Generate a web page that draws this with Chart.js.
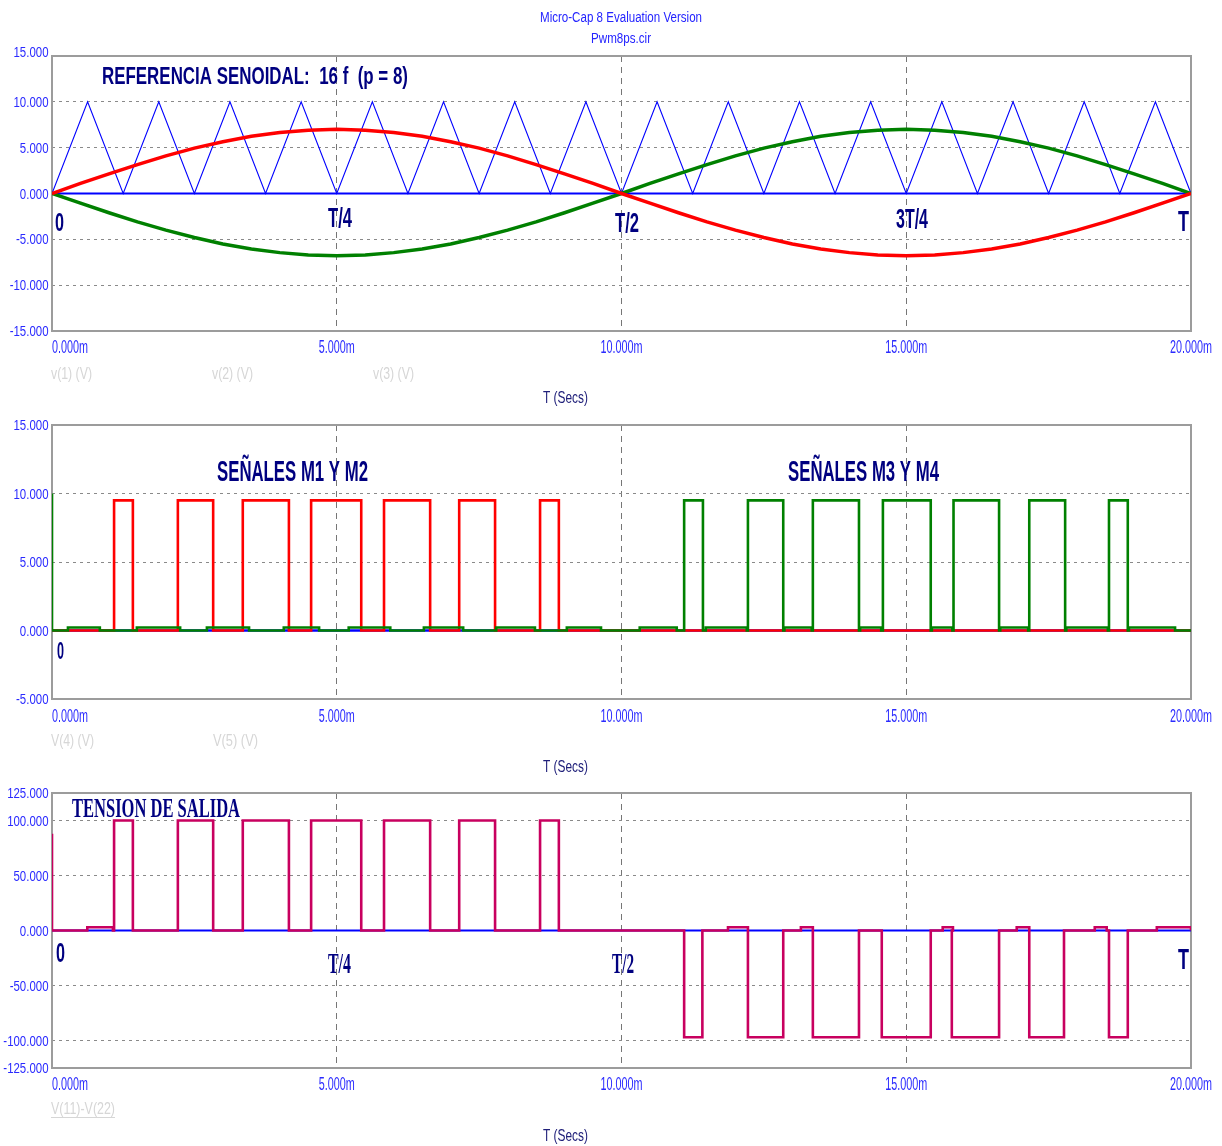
<!DOCTYPE html>
<html>
<head>
<meta charset="utf-8">
<title>Pwm8ps.cir</title>
<script src="https://cdn.jsdelivr.net/npm/chart.js@4.4.1/dist/chart.umd.min.js"></script>
<style>
  html, body { margin: 0; padding: 0; background: #fff; }
  body { width: 1222px; height: 1146px; position: relative; overflow: hidden; }
  canvas { position: absolute; left: 0; }
</style>
</head>
<body>
<canvas id="ref" width="1222" height="410" style="top:0px"></canvas>
<canvas id="gates" width="1222" height="370" style="top:410px"></canvas>
<canvas id="out" width="1222" height="366" style="top:780px"></canvas>
<script>
// ---- time axis (milliseconds) ----
const timeTicks = [0, 5, 10, 15, 20];
const timeTickLabels = ['0.000m', '5.000m', '10.000m', '15.000m', '20.000m'];

// ---- panel 1: triangular carrier v(1) and sinusoidal references v(2), v(3) ----
const refTicks = [-15, -10, -5, 0, 5, 10, 15];
const carrierTime = [0, 0.625, 1.25, 1.875, 2.5, 3.125, 3.75, 4.375, 5, 5.625, 6.25, 6.875, 7.5, 8.125, 8.75, 9.375,
  10, 10.625, 11.25, 11.875, 12.5, 13.125, 13.75, 14.375, 15, 15.625, 16.25, 16.875, 17.5, 18.125, 18.75, 19.375, 20];
const carrierVolts = [0, 10, 0, 10, 0, 10, 0, 10, 0, 10, 0, 10, 0, 10, 0, 10,
  0, 10, 0, 10, 0, 10, 0, 10, 0, 10, 0, 10, 0, 10, 0, 10, 0];
const sineTime = [0, 0.5, 1, 1.5, 2, 2.5, 3, 3.5, 4, 4.5, 5, 5.5, 6, 6.5, 7, 7.5, 8, 8.5, 9, 9.5,
  10, 10.5, 11, 11.5, 12, 12.5, 13, 13.5, 14, 14.5, 15, 15.5, 16, 16.5, 17, 17.5, 18, 18.5, 19, 19.5, 20];
const sineV2 = [0, 1.1, 2.15, 3.15, 4.1, 4.95, 5.65, 6.25, 6.65, 6.9, 7.0, 6.9, 6.65, 6.25, 5.65, 4.95, 4.1, 3.15, 2.15, 1.1,
  0, -1.05, -2.1, -3.1, -4.0, -4.8, -5.5, -6.05, -6.45, -6.7, -6.8, -6.7, -6.45, -6.05, -5.5, -4.8, -4.0, -3.1, -2.1, -1.05, 0];
const sineV3 = [0, -1.05, -2.1, -3.1, -4.0, -4.8, -5.5, -6.05, -6.45, -6.7, -6.8, -6.7, -6.45, -6.05, -5.5, -4.8, -4.0, -3.1, -2.1, -1.05,
  0, 1.1, 2.15, 3.15, 4.1, 4.95, 5.65, 6.25, 6.65, 6.9, 7.0, 6.9, 6.65, 6.25, 5.65, 4.95, 4.1, 3.15, 2.15, 1.1, 0];

// ---- panel 2: gate signals V(4) (M1/M2) and V(5) (M3/M4) ----
const gateTicks = [-5, 0, 5, 10, 15];
const gateHigh = 9.5;
const m12Start = [1.09, 2.21, 3.35, 4.55, 5.83, 7.15, 8.57];
const m12End   = [1.42, 2.83, 4.16, 5.43, 6.64, 7.78, 8.90];
const m34Start = [11.10, 12.22, 13.36, 14.59, 15.83, 17.16, 18.56];
const m34End   = [11.43, 12.84, 14.17, 15.43, 16.63, 17.79, 18.89];
const m34Initial = 10;
const gateIdle = 0.22;
const gateIdleStart = [0.28, 1.49, 2.72, 4.07, 5.21, 6.53, 7.80, 9.04, 10.32, 11.48, 12.86, 14.19, 15.45, 16.65, 17.81, 18.91];
const gateIdleEnd   = [0.84, 2.25, 3.46, 4.69, 5.94, 7.22, 8.48, 9.64, 10.97, 12.20, 13.34, 14.56, 15.81, 17.14, 18.54, 19.72];

// ---- panel 3: output voltage V(11)-V(22) ----
const outTicks = [-125, -100, -50, 0, 50, 100, 125];
const outHigh = 100;
const outLow = -97;
const outInitial = 88;
const outPosStart = [1.09, 2.21, 3.35, 4.55, 5.83, 7.15, 8.57];
const outPosEnd   = [1.42, 2.83, 4.16, 5.43, 6.64, 7.78, 8.90];
const outNegStart = [11.10, 12.22, 13.36, 14.57, 15.80, 17.16, 18.56];
const outNegEnd   = [11.42, 12.84, 14.17, 15.43, 16.63, 17.77, 18.89];
const outIdle = 3;
const outIdleStart = [0.62, 11.87, 13.15, 15.64, 16.94, 18.31, 19.40];
const outIdleEnd   = [1.07, 12.22, 13.36, 15.82, 17.16, 18.52, 20];

// ---- styling ----
const SANS = '"Liberation Sans", Arial, sans-serif';
const SERIF = '"Liberation Serif", "Times New Roman", serif';
const NAVY = '#000080';
const TICK_BLUE = '#2a2aff';
const LEGEND_GREY = '#d6d6d6';

// helpers that turn value arrays into {x, y} points
const zipXY = (xs, ys) => xs.map((x, i) => ({ x, y: ys[i] }));
function pulses(starts, ends, level) {
  return starts.map((s, i) => [s, ends[i], level]);
}
function stepSeries(segments, t0, t1, initial) {
  const pts = [];
  if (initial !== undefined) pts.push({ x: t0, y: initial });
  pts.push({ x: t0, y: 0 });
  segments.slice().sort((a, b) => a[0] - b[0]).forEach(([a, b, v]) => {
    pts.push({ x: a, y: 0 }, { x: a, y: v }, { x: b, y: v }, { x: b, y: 0 });
  });
  pts.push({ x: t1, y: 0 });
  return pts;
}
const flat = [{ x: 0, y: 0 }, { x: 20, y: 0 }];

// text drawn into a fixed box: font size sets height, width is fitted
function boxText(ctx, t) {
  ctx.save();
  ctx.font = `${t.weight || 'normal'} ${t.size}px ${t.family || SANS}`;
  const w = ctx.measureText(t.s).width;
  const sx = (t.x1 - t.x0) / w;
  ctx.translate(t.x0, t.base);
  ctx.scale(sx, 1);
  ctx.fillStyle = t.color;
  ctx.textAlign = 'left';
  ctx.textBaseline = 'alphabetic';
  ctx.fillText(t.s, 0, 0);
  ctx.restore();
  if (t.underline) {
    ctx.save();
    ctx.strokeStyle = t.color;
    ctx.lineWidth = 1;
    ctx.beginPath();
    ctx.moveTo(t.x0, t.base + 3.5);
    ctx.lineTo(t.x1, t.base + 3.5);
    ctx.stroke();
    ctx.restore();
  }
}

// condensed tick label: x0 is left edge, width follows a fixed squeeze factor
function squeezedWidth(ctx, s, size, sx) {
  ctx.save();
  ctx.font = `${size}px ${SANS}`;
  const w = ctx.measureText(s).width * sx;
  ctx.restore();
  return w;
}

// frame, axis labels and annotations
const decorPlugin = {
  id: 'decor',
  beforeDatasetsDraw(chart) {
    const { ctx, chartArea: a } = chart;
    ctx.save();
    ctx.strokeStyle = '#9c9c9c';
    ctx.lineWidth = 2;
    ctx.strokeRect(a.left, a.top, a.right - a.left, a.bottom - a.top);
    ctx.restore();
  },
  afterDraw(chart, args, opts) {
    const { ctx } = chart;
    const xs = chart.scales.x;
    const ys = chart.scales.y;

    // squeeze factors taken from the narrow plotter font
    ctx.save();
    ctx.font = `18px ${SANS}`;
    const sxX = 36 / ctx.measureText('5.000m').width;
    ctx.font = `14px ${SANS}`;
    const sxY = 35 / ctx.measureText('15.000').width;
    ctx.restore();

    // time tick labels: the first starts at its tick, the others are centred
    xs.ticks.forEach((tk, i) => {
      const label = timeTickLabels[timeTicks.indexOf(tk.value)];
      const w = squeezedWidth(ctx, label, 18, sxX);
      const px = xs.getPixelForValue(tk.value);
      const x0 = i === 0 ? px : px - w / 2;
      boxText(ctx, { s: label, x0, x1: x0 + w, base: opts.tickBase, size: 18, color: TICK_BLUE });
    });

    // value tick labels, right aligned against the frame
    ys.ticks.forEach((tk, i) => {
      const label = tk.value.toFixed(3);
      const w = squeezedWidth(ctx, label, 14, sxY);
      const py = ys.getPixelForValue(tk.value);
      const top = opts.raiseTopLabel && i === ys.ticks.length - 1;
      const base = top ? py + 0.5 : py + 5;
      boxText(ctx, { s: label, x0: 48.5 - w, x1: 48.5, base, size: 14, color: TICK_BLUE });
    });

    (opts.texts || []).forEach(t => boxText(ctx, t));
  }
};

function makePanel(id, cfg) {
  const canvas = document.getElementById(id);
  return new Chart(canvas, {
    type: 'line',
    data: { datasets: cfg.datasets },
    plugins: [decorPlugin],
    options: {
      responsive: false,
      animation: false,
      devicePixelRatio: 1,
      layout: { padding: { top: cfg.top, right: 31, left: 0, bottom: 0 } },
      elements: { point: { radius: 0, hoverRadius: 0 }, line: { tension: 0, borderJoinStyle: 'miter', borderCapStyle: 'butt' } },
      plugins: {
        legend: { display: false },
        tooltip: { enabled: false },
        decor: { texts: cfg.texts, tickBase: cfg.tickBase, raiseTopLabel: !!cfg.raiseTopLabel }
      },
      events: [],
      scales: {
        x: {
          type: 'linear', min: 0, max: 20,
          afterBuildTicks: s => { s.ticks = timeTicks.map(v => ({ value: v })); },
          afterFit: s => { s.height = cfg.xHeight; },
          ticks: { display: false },
          grid: { color: '#767676', lineWidth: 1, drawTicks: false },
          border: { display: false, dash: [6, 5] }
        },
        y: {
          type: 'linear', min: cfg.yTicks[0], max: cfg.yTicks[cfg.yTicks.length - 1],
          afterBuildTicks: s => { s.ticks = cfg.yTicks.map(v => ({ value: v })); },
          afterFit: s => { s.width = 52; },
          ticks: { display: false },
          grid: { color: '#8a8a8a', lineWidth: 1, drawTicks: false },
          border: { display: false, dash: [3, 4] }
        }
      }
    }
  });
}

// panel 1
makePanel('ref', {
  top: 56, xHeight: 79, tickBase: 353, yTicks: refTicks, raiseTopLabel: true,
  datasets: [
    { label: 'v(2)', data: zipXY(sineTime, sineV2), borderColor: '#ff0000', borderWidth: 3.5 },
    { label: 'v(3)', data: zipXY(sineTime, sineV3), borderColor: '#008000', borderWidth: 3.5 },
    { label: 'zero', data: flat, borderColor: '#0000ff', borderWidth: 2 },
    { label: 'v(1)', data: zipXY(carrierTime, carrierVolts), borderColor: '#0000ff', borderWidth: 1.1 }
  ],
  texts: [
    { s: 'Micro-Cap 8 Evaluation Version', x0: 540, x1: 702, base: 22, size: 14, color: '#2424ff' },
    { s: 'Pwm8ps.cir', x0: 591, x1: 651, base: 43, size: 15, color: '#2424ff' },
    { s: 'REFERENCIA SENOIDAL:  16 f  (p = 8)', x0: 102, x1: 408, base: 84, size: 23, weight: 'bold', color: NAVY },
    { s: '0', x0: 55, x1: 64, base: 231, size: 26, weight: 'bold', color: NAVY },
    { s: 'T/4', x0: 328, x1: 352, base: 227, size: 28, weight: 'bold', color: NAVY },
    { s: 'T/2', x0: 615, x1: 639, base: 232, size: 28, weight: 'bold', color: NAVY },
    { s: '3T/4', x0: 896, x1: 928, base: 228, size: 28, weight: 'bold', color: NAVY },
    { s: 'T', x0: 1178, x1: 1189, base: 231, size: 30, weight: 'bold', color: NAVY },
    { s: 'v(1) (V)', x0: 51, x1: 92, base: 379, size: 16, color: LEGEND_GREY },
    { s: 'v(2) (V)', x0: 212, x1: 253, base: 379, size: 16, color: LEGEND_GREY },
    { s: 'v(3) (V)', x0: 373, x1: 414, base: 379, size: 16, color: LEGEND_GREY },
    { s: 'T (Secs)', x0: 543, x1: 588, base: 403, size: 17, color: '#20207a' }
  ]
});

// panel 2
makePanel('gates', {
  top: 15, xHeight: 81, tickBase: 312, yTicks: gateTicks,
  datasets: [
    { label: 'V(5)', data: stepSeries(pulses(m34Start, m34End, gateHigh).concat(pulses(gateIdleStart, gateIdleEnd, gateIdle)), 0, 20, m34Initial),
      borderColor: '#008000', borderWidth: 2.6 },
    { label: 'V(4)', data: stepSeries(pulses(m12Start, m12End, gateHigh), 0, 20), borderColor: '#ff0000', borderWidth: 2.6 },
    { label: 'zero', data: flat, borderColor: '#0000ff', borderWidth: 2.6 }
  ],
  texts: [
    { s: 'SEÑALES M1 Y M2', x0: 217, x1: 368, base: 71, size: 29, weight: 'bold', color: NAVY },
    { s: 'SEÑALES M3 Y M4', x0: 788, x1: 939, base: 71, size: 29, weight: 'bold', color: NAVY },
    { s: '0', x0: 57, x1: 64, base: 249, size: 24, weight: 'bold', color: NAVY },
    { s: 'V(4) (V)', x0: 51, x1: 94, base: 336, size: 17, color: LEGEND_GREY },
    { s: 'V(5) (V)', x0: 213, x1: 258, base: 336, size: 17, color: LEGEND_GREY },
    { s: 'T (Secs)', x0: 543, x1: 588, base: 362, size: 17, color: '#20207a' }
  ]
});

// panel 3
makePanel('out', {
  top: 13, xHeight: 78, tickBase: 310, yTicks: outTicks,
  datasets: [
    { label: 'V(11)-V(22)', data: stepSeries(pulses(outPosStart, outPosEnd, outHigh)
        .concat(pulses(outNegStart, outNegEnd, outLow))
        .concat(pulses(outIdleStart, outIdleEnd, outIdle)), 0, 20, outInitial),
      borderColor: '#c8005f', borderWidth: 2.6 },
    { label: 'zero', data: flat, borderColor: '#0000ff', borderWidth: 2 }
  ],
  texts: [
    { s: 'TENSION DE SALIDA', x0: 72, x1: 240, base: 37, size: 27, weight: 'bold', family: SERIF, color: NAVY },
    { s: '0', x0: 56, x1: 65, base: 182, size: 27, weight: 'bold', color: NAVY },
    { s: 'T/4', x0: 328, x1: 351, base: 193, size: 30, weight: 'bold', family: SERIF, color: NAVY },
    { s: 'T/2', x0: 612, x1: 634, base: 193, size: 30, weight: 'bold', family: SERIF, color: NAVY },
    { s: 'T', x0: 1178, x1: 1189, base: 189, size: 30, weight: 'bold', color: NAVY },
    { s: 'V(11)-V(22)', x0: 51, x1: 115, base: 334, size: 17, color: LEGEND_GREY, underline: true },
    { s: 'T (Secs)', x0: 543, x1: 588, base: 361, size: 17, color: '#20207a' }
  ]
});
</script>
</body>
</html>
